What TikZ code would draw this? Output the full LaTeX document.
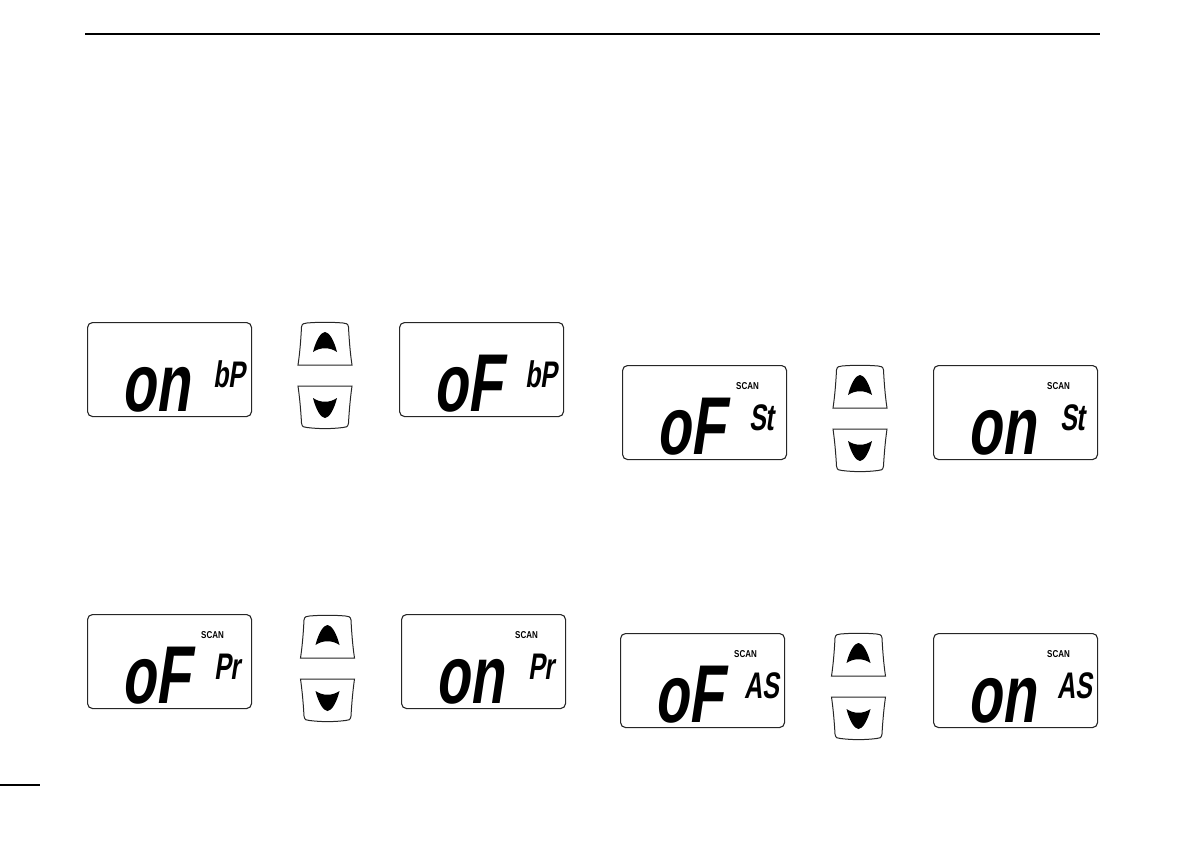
\documentclass[tikz,border=0pt]{standalone}
\usepackage{fontspec}
\newfontfamily\lcdfont[FakeSlant=0.15,FakeStretch=0.68]{Liberation Sans}
\newfontfamily\scanfont[FakeStretch=0.8]{Liberation Sans}
\begin{document}
\begin{tikzpicture}[
x=1pt, y=-1pt,
lcd/.style={rounded corners=5pt, draw=black!85, line width=1.1pt, minimum width=164pt, minimum height=94pt, anchor=north west, inner sep=0pt},
bigtext/.style={anchor=base west, inner sep=0pt, font=\lcdfont\bfseries\fontsize{82}{82}\selectfont},
smalltext/.style={anchor=base west, inner sep=0pt, font=\lcdfont\bfseries\fontsize{37}{37}\selectfont},
scantext/.style={anchor=base west, inner sep=0pt, font=\scanfont\bfseries\fontsize{10}{10}\selectfont},
btn/.style={draw=black!85, line width=1pt, fill=white},
updown/.pic={
\draw[btn] (-27,43) .. controls (-25,30) and (-24,15) .. (-23.5,5) .. controls (-23,1.5) and (-21,1.2) .. (-18,1) .. controls (-6,0) and (6,0) .. (18,1) .. controls (21,1.2) and (23,1.5) .. (23.5,5) .. controls (24,15) and (25,30) .. (27,43) -- cycle;
\fill (-12,30) .. controls (-9,18) and (-4,10) .. (0,10) .. controls (4,10) and (9,18) .. (12,30) .. controls (5,25) and (-5,25) .. (-12,30) -- cycle;
\draw[btn] (-27,64) -- (27,64) .. controls (25,78) and (24,92) .. (23.5,101) .. controls (23,105) and (21,105.5) .. (18,105.5) .. controls (6,107) and (-6,107) .. (-18,105.5) .. controls (-21,105.5) and (-23,105) .. (-23.5,101) .. controls (-24,92) and (-25,78) .. (-27,64) -- cycle;
\fill (-12,76) .. controls (-5,81) and (5,81) .. (12,76) .. controls (9,88) and (4,96) .. (0,96) .. controls (-4,96) and (-9,88) .. (-12,76) -- cycle;
},
]
\useasboundingbox (0,0) rectangle (1191,842);

%Rules
\coordinate (rule_left) at (85,33.7);
\coordinate (rule_right) at (1100,33.7);
\draw[line width=2pt] (rule_left) -- (rule_right);
\coordinate (foot_left) at (0,785);
\coordinate (foot_right) at (40,785);
\draw[line width=1.3pt] (foot_left) -- (foot_right);

%Displays
\node[lcd] (beep_on) at (87,322) {};
\node[lcd] (beep_off) at (399,322) {};
\node[lcd] (stop_off) at (622,365) {};
\node[lcd] (stop_on) at (933,365) {};
\node[lcd] (priority_off) at (87,614) {};
\node[lcd] (priority_on) at (401,614) {};
\node[lcd] (autostart_off) at (620,633) {};
\node[lcd] (autostart_on) at (933,633) {};

%Texts
\node[bigtext] (beep_on_main) at (121,411) {on};
\node[smalltext] (beep_on_sub) at (213,387) {bP};
\node[bigtext] (beep_off_main) at (433,411) {oF};
\node[smalltext] (beep_off_sub) at (525,387) {bP};

\node[bigtext] (stop_off_main) at (656,454) {oF};
\node[smalltext] (stop_off_sub) at (749,430) {St};
\node[scantext] (stop_off_scan) at (736,389) {SCAN};
\node[bigtext] (stop_on_main) at (967,454) {on};
\node[smalltext] (stop_on_sub) at (1060,430) {St};
\node[scantext] (stop_on_scan) at (1047,389) {SCAN};

\node[bigtext] (priority_off_main) at (121,703) {oF};
\node[smalltext] (priority_off_sub) at (214,679) {Pr};
\node[scantext] (priority_off_scan) at (201,638) {SCAN};
\node[bigtext] (priority_on_main) at (435,703) {on};
\node[smalltext] (priority_on_sub) at (528,679) {Pr};
\node[scantext] (priority_on_scan) at (515,638) {SCAN};

\node[bigtext] (autostart_off_main) at (654,722) {oF};
\node[smalltext] (autostart_off_sub) at (744,698) {AS};
\node[scantext] (autostart_off_scan) at (734,657) {SCAN};
\node[bigtext] (autostart_on_main) at (967,722) {on};
\node[smalltext] (autostart_on_sub) at (1057,698) {AS};
\node[scantext] (autostart_on_scan) at (1047,657) {SCAN};

%Keys
\pic (beep_keys) at (325,322) {updown};
\pic (stop_keys) at (860,365) {updown};
\pic (priority_keys) at (327.5,615) {updown};
\pic (autostart_keys) at (858.5,633) {updown};

\end{tikzpicture}
\end{document}
